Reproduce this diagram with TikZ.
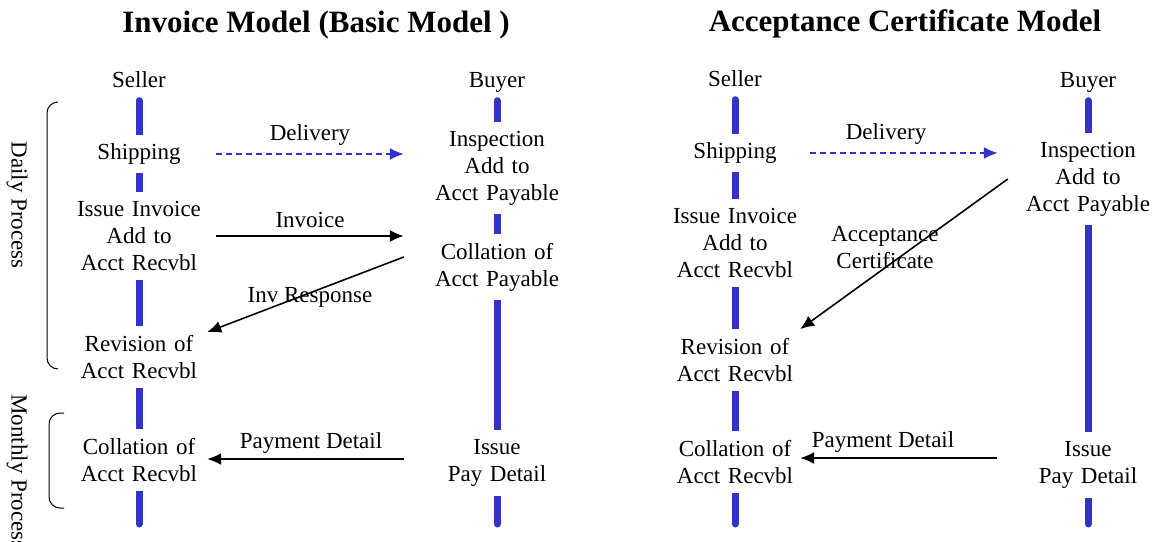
\documentclass[tikz,border=0pt]{standalone}
\usepackage{fontspec}
\setmainfont{Liberation Serif}
\usetikzlibrary{arrows.meta}
\definecolor{lineblue}{HTML}{3333CC}
\newcommand{\actfont}{\fontsize{23}{27}\selectfont}
\newcommand{\titlefont}{\fontsize{31}{36}\selectfont\bfseries}
\begin{document}
\begin{tikzpicture}[
	x=1pt, y=-1pt,
	act/.style={
		fill=white,
		inner xsep=0pt,
		inner ysep=9pt,
		align=center,
		font=\actfont
	},
	sellact/.style={act, text width=154pt},
	buyact/.style={act, text width=186pt},
	rsellact/.style={act, text width=150pt},
	rbuyact/.style={act, text width=180pt},
	head/.style={
		font=\actfont,
		anchor=base,
		text height=16pt,
		text depth=0pt,
		inner ysep=13.5pt
	},
	lbl/.style={font=\actfont, align=center},
	lifeline/.style={line width=7pt, draw=lineblue, line cap=round},
	ArrowMsg/.style={% message arrows
		line width=1.6pt,
		-{Latex[length=14pt,width=12pt]},
	},
	ArrowDlv/.style={% delivery arrows
		line width=1.8pt,
		draw=lineblue,
		dash pattern=on 6pt off 4pt,
		-{Latex[length=14pt,width=12pt]},
	},
	bracket/.style={line width=1pt, rounded corners=11pt},
]
	\useasboundingbox (0,0) rectangle (1155,541);

	% titles
	\node [font=\titlefont] (ltitle) at (316,25) {Invoice Model (Basic Model )};
	\node [font=\titlefont] (rtitle) at (905,24) {Acceptance Certificate Model};

	% side brackets
	\draw [bracket] (58,102) -- (47,102) -- (47,369) -- (58,369);
	\draw [bracket] (64,413) -- (49,413) -- (49,508) -- (64,508);
	\node [lbl, rotate=-90] (daily) at (17,205) {Daily Process};
	\node [lbl, rotate=-90] (monthly) at (17,472) {Monthly Process};

	% heads
	\node [head] (lsel) at (139,87) {Seller};
	\node [head] (lbuy) at (497,87) {Buyer};
	\node [head] (rsel) at (735,86) {Seller};
	\node [head] (rbuy) at (1088,87) {Buyer};

	\coordinate (lselend) at (139,524);
	\coordinate (lbuyend) at (497,524);
	\coordinate (rselend) at (735,524);
	\coordinate (rbuyend) at (1088,524);

	\draw [lifeline] (lsel.south) -- (lselend);
	\draw [lifeline] (lbuy.south) -- (lbuyend);
	\draw [lifeline] (rsel.south) -- (rselend);
	\draw [lifeline] (rbuy.south) -- (rbuyend);

	% invoice model
	\node [sellact] (lship) at (139,154) {Shipping};
	\node [sellact] (linv) at (139,236) {Issue Invoice\\Add to\\Acct Recvbl};
	\node [sellact] (lrev) at (139,357) {Revision of\\Acct Recvbl};
	\node [sellact] (lcol) at (139,460) {Collation of\\Acct Recvbl};

	\node [buyact] (linsp) at (497,168) {Inspection\\Add to\\Acct Payable};
	\node [buyact] (lcolp) at (497,267) {Collation of\\Acct Payable};
	\node [buyact] (lpay) at (497,463) {Issue\\Pay Detail};

	\draw [ArrowDlv] (lship.east) -- (lship.east -| linsp.west);
	\draw [ArrowMsg] (linv.east) -- (linv.east -| lcolp.west);
	\draw [ArrowMsg] ([yshift=10pt]lcolp.west) -- ([xshift=-9pt,yshift=-6pt]lrev.north east);
	\draw [ArrowMsg] ([yshift=4pt]lpay.west) -- ([xshift=-9pt,yshift=4pt]lpay.west -| lcol.east);

	\node [lbl] (ldlv) at (310,135) {Delivery};
	\node [lbl] (linvl) at (310,220) {Invoice};
	\node [lbl] (lresp) at (310,297) {Inv Response};
	\node [lbl] (lpayl) at (311,443) {Payment Detail};

	% acceptance certificate model
	\node [rsellact] (rship) at (735,153) {Shipping};
	\node [rsellact] (rinv) at (735,243) {Issue Invoice\\Add to\\Acct Recvbl};
	\node [rsellact] (rrev) at (735,360) {Revision of\\Acct Recvbl};
	\node [rsellact] (rcol) at (735,462) {Collation of\\Acct Recvbl};

	\node [rbuyact] (rinsp) at (1088,179) {Inspection\\Add to\\Acct Payable};
	\node [rbuyact] (rpay) at (1088,465) {Issue\\Pay Detail};

	\draw [ArrowDlv] (rship.east) -- (rship.east -| rinsp.west);
	\draw [ArrowMsg] ([xshift=10pt]rinsp.west) -- ([xshift=-10pt]rrev.north east);
	\draw [ArrowMsg] ([xshift=-1pt,yshift=7pt]rpay.west) -- ([xshift=-10pt,yshift=7pt]rpay.west -| rcol.east);

	\node [lbl] (rdlv) at (886,134) {Delivery};
	\node [lbl] (racc) at (885,248) {Acceptance\\Certificate};
	\node [lbl] (rpayl) at (883,442) {Payment Detail};
\end{tikzpicture}
\end{document}
